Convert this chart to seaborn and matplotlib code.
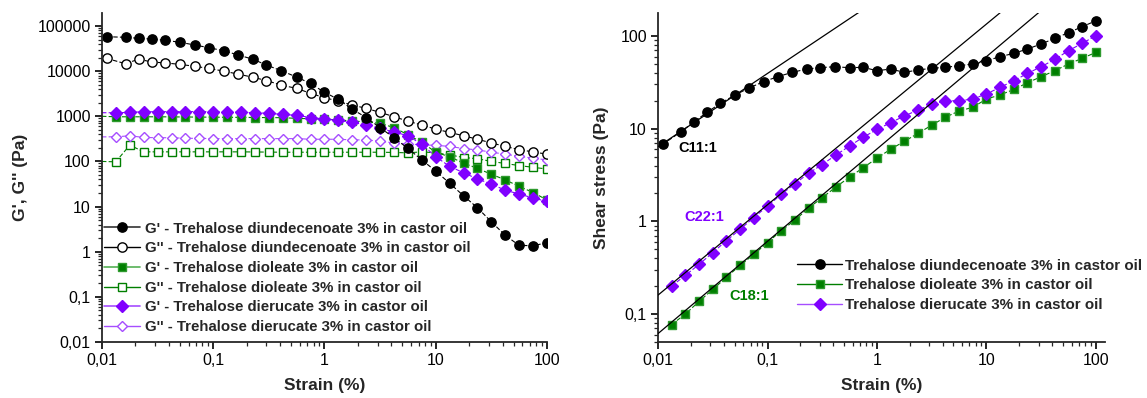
import matplotlib
matplotlib.use("Agg")
import matplotlib.pyplot as plt
from matplotlib.lines import Line2D
from matplotlib.ticker import FixedLocator, FixedFormatter, LogLocator, NullFormatter
import seaborn as sns
import pandas as pd

# ---------------- data ----------------
strain_diun = [0.011, 0.0163, 0.0214, 0.028, 0.0372, 0.0506, 0.0683, 0.092, 0.124, 0.168,
               0.228, 0.30, 0.41, 0.562, 0.75, 1.0, 1.33, 1.78, 2.37, 3.16, 4.22, 5.62,
               7.5, 10, 13.3, 17.8, 23.7, 31.6, 42.2, 56.2, 75, 100]
strain_grid = [0.01, 0.0133, 0.0178, 0.0237, 0.0316, 0.0422, 0.0562, 0.075, 0.1, 0.133,
               0.178, 0.237, 0.316, 0.422, 0.562, 0.75, 1.0, 1.33, 1.78, 2.37, 3.16, 4.22,
               5.62, 7.5, 10, 13.3, 17.8, 23.7, 31.6, 42.2, 56.2, 75, 100]

# left panel: G' and G'' (Pa)
g1_diun = [57900, 56200, 53300, 51500, 48200, 43500, 37900, 33000, 28300, 22800, 18300,
           13700, 10200, 7400, 5330, 3390, 2380, 1430, 940, 560, 334, 194, 108, 61, 33,
           17.3, 9.4, 4.6, 2.3, 1.38, 1.36, 1.58]
g2_diun = [19200, 14600, 18500, 15900, 15200, 14100, 12800, 11500, 10000, 8600, 7300,
           6200, 4900, 4150, 3220, 2580, 2180, 1770, 1500, 1220, 980, 780, 640, 520, 440,
           370, 310, 257, 215, 183, 162, 145]
g1_diol = [1000, 975, 975, 975, 975, 970, 965, 960, 955, 950, 945, 940, 935, 930, 900,
           880, 870, 830, 790, 750, 700, 560, 390, 265, 160, 127, 92, 70, 52, 39, 28,
           20.5, 14]
g2_diol = [100, 98, 230, 163, 163, 163, 163, 163, 163, 163, 163, 162, 161, 160, 160, 160,
           160, 160, 160, 160, 160, 158, 155, 163, 155, 140, 122, 115, 100, 90, 81, 74, 68]
g1_dieru = [1200, 1196, 1220, 1260, 1260, 1270, 1270, 1270, 1260, 1250, 1230, 1200, 1160,
            1100, 1050, 940, 870, 810, 735, 640, 540, 450, 370, 240, 127, 78, 56, 41,
            31.5, 23, 19, 15.5, 13]
g2_dieru = [350, 351, 370, 340, 335, 335, 325, 325, 320, 320, 320, 320, 320, 320, 320, 310,
            310, 310, 300, 300, 280, 257, 245, 232, 228, 215, 193, 180, 160, 145, 130,
            118, 108]

# right panel: shear stress (Pa)
stress_diun = [6.76, 9.3, 11.9, 15.0, 18.8, 23.1, 27.6, 32.1, 36.4, 40.5, 44, 45.5, 46.6,
               45.5, 45.9, 42.2, 44, 40.5, 43, 44.8, 45.9, 47.8, 49.9, 54.1, 59.8, 65,
               72.4, 82, 94.4, 108.6, 126, 146]
stress_diol = [0.077, 0.1, 0.137, 0.184, 0.25, 0.335, 0.44, 0.59, 0.79, 1.03, 1.39, 1.8,
               2.35, 3.0, 3.8, 4.8, 6.0, 7.3, 8.9, 10.9, 13.3, 15.5, 17, 20.9, 23.1, 26.5,
               31.3, 36.4, 42.2, 49.9, 57.4, 66.6]
stress_dieru = [0.2, 0.262, 0.343, 0.46, 0.62, 0.82, 1.1, 1.46, 1.95, 2.54, 3.3, 4.1, 5.2,
                6.5, 8.1, 9.8, 11.6, 13.7, 15.9, 18.3, 20, 20, 20.9, 23.7, 27.9, 32.9, 39.5,
                46.6, 56, 69.4, 83.4, 100.8]

# fitted straight lines (end points)
fit_c11_x, fit_c11_y = [0.01, 1.0], [6.4, 243]
fit_c22_x, fit_c22_y = [0.01, 100], [0.16, 1270]
fit_c18_x, fit_c18_y = [0.01, 100], [0.0615, 593]

x_ticks = [0.01, 0.1, 1, 10, 100]
x_ticklabels = ["0,01", "0,1", "1", "10", "100"]
yl_ticks = [0.01, 0.1, 1, 10, 100, 1000, 10000, 100000]
yl_ticklabels = ["0,01", "0,1", "1", "10", "100", "1000", "10000", "100000"]
yr_ticks = [0.1, 1, 10, 100]
yr_ticklabels = ["0,1", "1", "10", "100"]

left_labels = ["G' - Trehalose diundecenoate 3% in castor oil",
               "G'' - Trehalose diundecenoate 3% in castor oil",
               "G' - Trehalose dioleate 3% in castor oil",
               "G'' - Trehalose dioleate 3% in castor oil",
               "G' - Trehalose dierucate 3% in castor oil",
               "G'' - Trehalose dierucate 3% in castor oil"]
right_labels = ["Trehalose diundecenoate 3% in castor oil",
                "Trehalose dioleate 3% in castor oil",
                "Trehalose dierucate 3% in castor oil"]

# ---------------- style ----------------
sns.set_style("ticks")
plt.rcParams['font.family'] = ['Liberation Sans', 'DejaVu Sans']
plt.rcParams['axes.linewidth'] = 1.3
plt.rcParams['xtick.major.width'] = 1.2
plt.rcParams['ytick.major.width'] = 1.2
plt.rcParams['xtick.minor.width'] = 0.9
plt.rcParams['ytick.minor.width'] = 0.9
plt.rcParams['xtick.major.size'] = 5
plt.rcParams['ytick.major.size'] = 5
plt.rcParams['xtick.minor.size'] = 3
plt.rcParams['ytick.minor.size'] = 3

BLACK = '#000000'
GREEN = '#007F00'
GREEN_EDGE = '#2E9A2E'
GREEN_LINE = '#55B055'
PURPLE = '#8000FF'
PURPLE_LINE = '#A64DFF'
DASH = (0, (4, 2))

fig = plt.figure(figsize=(11.47, 3.98), dpi=100)
ax1 = fig.add_axes([0.0889, 0.1407, 0.388, 0.8266])
ax2 = fig.add_axes([0.5737, 0.1407, 0.390, 0.8266])

for ax in (ax1, ax2):
	ax.set_xscale('log')
	ax.set_yscale('log')


def series(ax, x, y, color, marker, ms, face, edge, lw=0.8, every=None, z=2):
	df = pd.DataFrame({'x': x, 'y': y})
	sns.lineplot(data=df, x='x', y='y', ax=ax, sort=False, estimator=None, legend=False,
	             color=color, linestyle=DASH, linewidth=lw, marker=marker, markersize=ms,
	             markerfacecolor=face, markeredgecolor=edge, markeredgewidth=1.0,
	             markevery=every, zorder=z)


# ---------------- left panel ----------------
series(ax1, strain_grid, g2_diol, GREEN, 's', 5.2, 'white', GREEN, every=slice(1, None))
series(ax1, strain_grid, g2_dieru, PURPLE_LINE, 'D', 5.5, 'white', PURPLE_LINE, every=slice(1, None))
series(ax1, strain_grid, g1_diol, GREEN, 's', 5.4, GREEN, GREEN_EDGE, every=slice(1, None))
series(ax1, strain_grid, g1_dieru, PURPLE, 'D', 6.4, PURPLE, PURPLE, every=slice(1, None))
series(ax1, strain_diun, g2_diun, BLACK, 'o', 6.7, 'white', BLACK)
series(ax1, strain_diun, g1_diun, BLACK, 'o', 6.7, BLACK, BLACK)

ax1.set_xlim(0.01, 100)
ax1.set_ylim(0.01, 1.94e5)
ax1.xaxis.set_major_locator(FixedLocator(x_ticks))
ax1.xaxis.set_major_formatter(FixedFormatter(x_ticklabels))
ax1.yaxis.set_major_locator(FixedLocator(yl_ticks))
ax1.yaxis.set_major_formatter(FixedFormatter(yl_ticklabels))
ax1.set_xlabel('Strain (%)', fontsize=12.5, fontweight='bold', labelpad=7)
ax1.set_ylabel("G', G'' (Pa)", fontsize=12.5, fontweight='bold', labelpad=7)

h_left = [
	Line2D([], [], color='#333333', lw=1.2, marker='o', ms=6.7, mfc=BLACK, mec=BLACK),
	Line2D([], [], color=BLACK, lw=1.0, marker='o', ms=6.7, mfc='white', mec=BLACK),
	Line2D([], [], color=GREEN_LINE, lw=1.2, marker='s', ms=5.4, mfc=GREEN, mec=GREEN_EDGE),
	Line2D([], [], color=GREEN, lw=1.0, marker='s', ms=5.2, mfc='white', mec=GREEN),
	Line2D([], [], color=PURPLE_LINE, lw=1.2, marker='D', ms=6.4, mfc=PURPLE, mec=PURPLE),
	Line2D([], [], color=PURPLE_LINE, lw=1.0, marker='D', ms=5.5, mfc='white', mec=PURPLE_LINE),
]
ax1.legend(h_left, left_labels, loc='upper left', bbox_to_anchor=(-0.008, 0.384), frameon=False,
           prop={'weight': 'bold', 'size': 10.8}, handlelength=2.4, handletextpad=0.3,
           labelspacing=0.38, borderaxespad=0.0)

# ---------------- right panel ----------------
series(ax2, strain_grid[1:], stress_diol, GREEN, 's', 5.6, GREEN, GREEN_EDGE)
series(ax2, strain_grid[1:], stress_dieru, PURPLE, 'D', 6.4, PURPLE, PURPLE)
series(ax2, strain_diun, stress_diun, BLACK, 'o', 6.7, BLACK, BLACK)

for fx, fy in ((fit_c11_x, fit_c11_y), (fit_c22_x, fit_c22_y), (fit_c18_x, fit_c18_y)):
	sns.lineplot(x=fx, y=fy, ax=ax2, color=BLACK, linewidth=0.9, estimator=None,
	             sort=False, legend=False, zorder=5)

ax2.set_xlim(0.01, 122)
ax2.set_ylim(0.0499, 177)
ax2.xaxis.set_major_locator(FixedLocator(x_ticks))
ax2.xaxis.set_major_formatter(FixedFormatter(x_ticklabels))
ax2.yaxis.set_major_locator(FixedLocator(yr_ticks))
ax2.yaxis.set_major_formatter(FixedFormatter(yr_ticklabels))
ax2.set_xlabel('Strain (%)', fontsize=12.5, fontweight='bold', labelpad=7)
ax2.set_ylabel('Shear stress (Pa)', fontsize=12.5, fontweight='bold', labelpad=8)

ax2.text(0.0152, 6.2, 'C11:1', color=BLACK, fontsize=10.5, fontweight='bold', va='center', ha='left')
ax2.text(0.0173, 1.12, 'C22:1', color=PURPLE, fontsize=10.5, fontweight='bold', va='center', ha='left')
ax2.text(0.0445, 0.155, 'C18:1', color=GREEN, fontsize=10.5, fontweight='bold', va='center', ha='left')

h_right = [
	Line2D([], [], color=BLACK, lw=1.0, marker='o', ms=6.7, mfc=BLACK, mec=BLACK),
	Line2D([], [], color=GREEN, lw=1.0, marker='s', ms=5.6, mfc=GREEN, mec=GREEN_EDGE),
	Line2D([], [], color=PURPLE_LINE, lw=1.0, marker='D', ms=6.4, mfc=PURPLE, mec=PURPLE),
]
ax2.legend(h_right, right_labels, loc='upper left', bbox_to_anchor=(0.297, 0.272), frameon=False,
           prop={'weight': 'bold', 'size': 10.9}, handlelength=3.0, handletextpad=0.2,
           labelspacing=0.38, borderaxespad=0.0)

for ax in (ax1, ax2):
	ax.xaxis.set_minor_locator(LogLocator(base=10, subs=range(2, 10), numticks=20))
	ax.yaxis.set_minor_locator(LogLocator(base=10, subs=range(2, 10), numticks=20))
	ax.xaxis.set_minor_formatter(NullFormatter())
	ax.yaxis.set_minor_formatter(NullFormatter())
	ax.tick_params(axis='both', which='major', labelsize=11.5, colors='black', pad=3)
	sns.despine(ax=ax)

fig.savefig('out.png', dpi=100)
